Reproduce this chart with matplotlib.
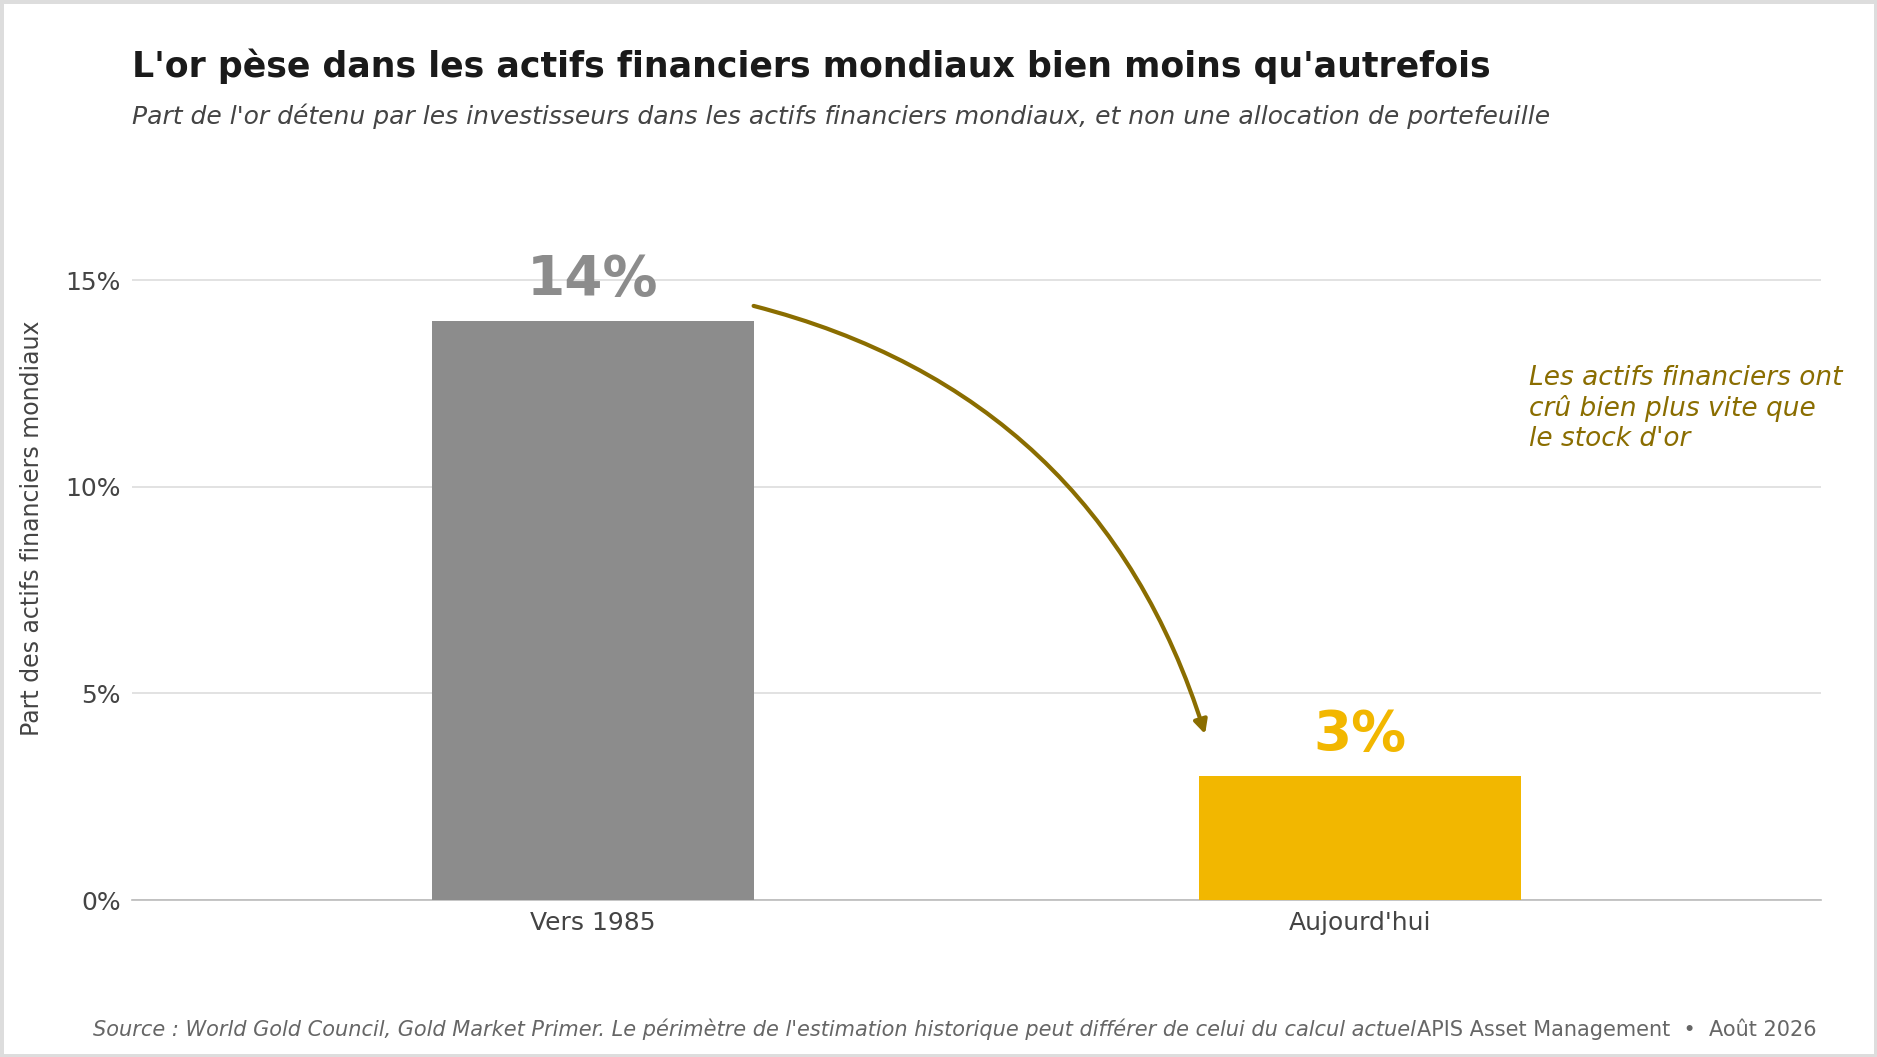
import matplotlib
matplotlib.use("Agg")
import matplotlib.pyplot as plt
from matplotlib.patches import Rectangle

categories = ["Vers 1985", "Aujourd'hui"]
values = [14, 3]
value_labels = ["14%", "3%"]
bar_colors = ["#8c8c8c", "#f2b700"]
yticks = [0, 5, 10, 15]
ytick_labels = ["0%", "5%", "10%", "15%"]

W, H = 1877, 1057
fig = plt.figure(figsize=(W / 100, H / 100), dpi=100)
fig.patch.set_facecolor("white")

# axes placed in pixel terms: 0% at y=900, 15% at y=280
y0, y15 = 900, 280
ymax = 18
per = (y0 - y15) / 15
top = y0 - per * ymax
ax = fig.add_axes([132 / W, 1 - y0 / H, (1821 - 132) / W, (y0 - top) / H])

x = list(range(len(categories)))
ax.bar(x, values, width=0.42, color=bar_colors, zorder=3)
ax.set_xlim(-0.6006, 1.6006)
ax.set_ylim(0, ymax)

ax.set_yticks(yticks)
ax.set_yticklabels(ytick_labels)
ax.set_xticks(x)
ax.set_xticklabels(categories)
ax.tick_params(axis="both", length=0, labelsize=18, labelcolor="#444444")
ax.tick_params(axis="x", pad=8)
ax.tick_params(axis="y", pad=8)
ax.grid(axis="y", color="#dddddd", linewidth=1.2, zorder=0)
for s in ["top", "right", "left"]:
    ax.spines[s].set_visible(False)
ax.spines["bottom"].set_color("#bbbbbb")
ax.spines["bottom"].set_linewidth(1.2)
ax.set_ylabel("Part des actifs financiers mondiaux", fontsize=17, color="#444444")
ax.yaxis.set_label_coords(-0.052, 0.5)

for xi, v, lab, c in zip(x, values, value_labels, bar_colors):
    ax.text(xi, v + 0.35, lab, ha="center", va="bottom", fontsize=39.5,
            fontweight="bold", color=c, zorder=4)

# arrow from the old bar to the new one
ax.annotate("", xy=(0.799, 3.95), xytext=(0.206, 14.39),
            arrowprops=dict(arrowstyle="-|>", color="#8a6d00", lw=3,
                            mutation_scale=20,
                            connectionstyle="arc3,rad=-0.28"), zorder=5)

ax.text(1.22, 12.95, "Les actifs financiers ont\ncrû bien plus vite que\nle stock d'or",
        ha="left", va="top", fontsize=19, style="italic", color="#8a6d00",
        linespacing=1.2, clip_on=False)

fig.text(132 / W, 1 - 66 / H, "L'or pèse dans les actifs financiers mondiaux bien moins qu'autrefois",
         fontsize=25, fontweight="bold", color="#1a1a1a", va="center", ha="left")
fig.text(132 / W, 1 - 116 / H,
         "Part de l'or détenu par les investisseurs dans les actifs financiers mondiaux, et non une allocation de portefeuille",
         fontsize=18, style="italic", color="#444444", va="center", ha="left")

fig.text(93 / W, 1 - 1029 / H,
         "Source : World Gold Council, Gold Market Primer. Le périmètre de l'estimation historique peut différer de celui du calcul actuel",
         fontsize=15, style="italic", color="#666666", va="center", ha="left")
fig.text(1817 / W, 1 - 1029 / H, "APIS Asset Management  •  Août 2026",
         fontsize=15, color="#666666", va="center", ha="right")

fig.patches.append(Rectangle((0, 0), 1, 1, transform=fig.transFigure, fill=False,
                             edgecolor="#dddddd", linewidth=5, zorder=10))

fig.savefig("out.png", dpi=100)
